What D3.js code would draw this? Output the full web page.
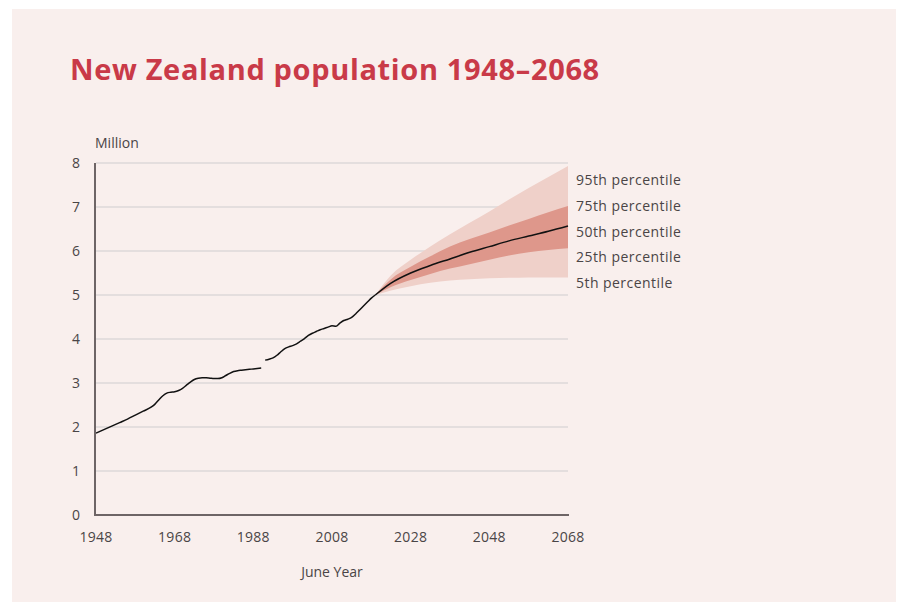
<!DOCTYPE html>
<html>
<head>
<meta charset="utf-8">
<script src="https://cdn.jsdelivr.net/npm/d3@7"></script>
<style>
  body { margin: 0; background: #ffffff; }
  text { font-family: "Open Sans", "Lato", sans-serif; }
</style>
</head>
<body>
<svg id="chart"></svg>
<script>
// Historical estimates (de facto to 1990, resident from 1991), millions
var histYearsA = [1948, 1950, 1952, 1954, 1956, 1958, 1960, 1962, 1963, 1964, 1965, 1966, 1967, 1968, 1969, 1970, 1971, 1972, 1973, 1974, 1975, 1976, 1977, 1978, 1979, 1980, 1981, 1982, 1983, 1984, 1985, 1986, 1987, 1988, 1989, 1990];
var histValuesA = [1.86, 1.94, 2.02, 2.10, 2.18, 2.27, 2.36, 2.45, 2.52, 2.62, 2.71, 2.77, 2.79, 2.80, 2.83, 2.88, 2.95, 3.02, 3.08, 3.11, 3.12, 3.12, 3.11, 3.10, 3.10, 3.12, 3.17, 3.22, 3.26, 3.28, 3.29, 3.30, 3.31, 3.32, 3.33, 3.34];
var histYearsB = [1991, 1992, 1993, 1994, 1995, 1996, 1997, 1998, 1999, 2000, 2001, 2002, 2003, 2004, 2005, 2006, 2007, 2008, 2009, 2010, 2011, 2012, 2013, 2014, 2015, 2016, 2017, 2018, 2019];
var histValuesB = [3.52, 3.54, 3.57, 3.63, 3.71, 3.78, 3.82, 3.85, 3.89, 3.95, 4.01, 4.08, 4.13, 4.17, 4.21, 4.24, 4.27, 4.30, 4.29, 4.36, 4.42, 4.45, 4.49, 4.57, 4.66, 4.75, 4.84, 4.93, 5.00];

// Projection percentiles
var projYears = [2019, 2023, 2028, 2033, 2038, 2043, 2048, 2053, 2058, 2063, 2068];
var p95 = [5.00, 5.45, 5.80, 6.10, 6.38, 6.64, 6.90, 7.17, 7.43, 7.68, 7.93];
var p75 = [5.00, 5.36, 5.64, 5.88, 6.10, 6.27, 6.42, 6.58, 6.73, 6.88, 7.02];
var p50 = [5.00, 5.27, 5.50, 5.67, 5.82, 5.97, 6.10, 6.23, 6.34, 6.45, 6.57];
var p25 = [5.00, 5.18, 5.34, 5.48, 5.60, 5.70, 5.80, 5.90, 5.97, 6.02, 6.06];
var p05 = [5.00, 5.10, 5.20, 5.28, 5.33, 5.36, 5.38, 5.39, 5.40, 5.40, 5.40];

var xTicks = [1948, 1968, 1988, 2008, 2028, 2048, 2068];
var yTicks = [0, 1, 2, 3, 4, 5, 6, 7, 8];
var legendLabels = ["95th percentile", "75th percentile", "50th percentile", "25th percentile", "5th percentile"];
// label anchor levels on the y scale (labels are spaced evenly beside the bands)
var legendValues = [7.55, 6.96, 6.37, 5.80, 5.21];

var W = 901, H = 602;

var svg = d3.select("#chart")
    .attr("width", W)
    .attr("height", H);

// Panel background
svg.append("rect")
    .attr("x", 12).attr("y", 9)
    .attr("width", 884).attr("height", 594)
    .attr("fill", "#f9efed");

svg.append("text")
    .attr("x", 70).attr("y", 80)
    .attr("fill", "#c93a48")
    .style("font-size", "29px")
    .style("font-weight", "700")
    .style("letter-spacing", "0.65px")
    .text("New Zealand population 1948\u20132068");

var x = d3.scaleLinear().domain([1948, 2068]).range([96, 568]);
var y = d3.scaleLinear().domain([0, 8]).range([515, 163]);

// Gridlines
svg.append("g")
    .selectAll("line")
    .data(yTicks.slice(1))
    .join("line")
    .attr("x1", x(1948)).attr("x2", x(2068))
    .attr("y1", function (d) { return y(d); })
    .attr("y2", function (d) { return y(d); })
    .attr("stroke", "#dcd9d8")
    .attr("stroke-width", 1.5);

function zipYears(years, vals) {
    return years.map(function (yr, i) { return { year: yr, v: vals[i] }; });
}

var band = function (lo, hi) {
    var rows = projYears.map(function (yr, i) { return { year: yr, lo: lo[i], hi: hi[i] }; });
    return d3.area()
        .x(function (d) { return x(d.year); })
        .y0(function (d) { return y(d.lo); })
        .y1(function (d) { return y(d.hi); })
        .curve(d3.curveMonotoneX)(rows);
};

svg.append("path").attr("d", band(p05, p95)).attr("fill", "#efd0c9");
svg.append("path").attr("d", band(p25, p75)).attr("fill", "#de978b");

var line = d3.line()
    .x(function (d) { return x(d.year); })
    .y(function (d) { return y(d.v); })
    .curve(d3.curveMonotoneX);

[zipYears(histYearsA, histValuesA), zipYears(histYearsB, histValuesB), zipYears(projYears, p50)].forEach(function (s) {
    svg.append("path")
        .attr("d", line(s))
        .attr("fill", "none")
        .attr("stroke", "#111111")
        .attr("stroke-width", 1.5);
});

// Axes lines
svg.append("line")
    .attr("x1", 95).attr("x2", 95)
    .attr("y1", y(8)).attr("y2", y(0) + 1)
    .attr("stroke", "#6e6566").attr("stroke-width", 2);
svg.append("line")
    .attr("x1", 95).attr("x2", x(2068) + 1)
    .attr("y1", y(0)).attr("y2", y(0))
    .attr("stroke", "#6e6566").attr("stroke-width", 2);

// Tick labels
svg.append("g")
    .selectAll("text")
    .data(yTicks)
    .join("text")
    .attr("x", 80)
    .attr("y", function (d) { return y(d) + 5; })
    .attr("text-anchor", "end")
    .attr("fill", "#4a4546")
    .style("font-size", "14px")
    .text(function (d) { return d; });

svg.append("g")
    .selectAll("text")
    .data(xTicks)
    .join("text")
    .attr("x", function (d) { return x(d); })
    .attr("y", 542)
    .attr("text-anchor", "middle")
    .attr("fill", "#4a4546")
    .style("font-size", "14px")
    .style("letter-spacing", "0.3px")
    .text(function (d) { return d; });

svg.append("text")
    .attr("x", 95).attr("y", 148)
    .attr("fill", "#4a4546")
    .style("font-size", "14px")
    .text("Million");

svg.append("text")
    .attr("x", 332).attr("y", 577)
    .attr("text-anchor", "middle")
    .attr("fill", "#4a4546")
    .style("font-size", "14px")
    .text("June Year");

// Percentile labels
svg.append("g")
    .selectAll("text")
    .data(legendLabels)
    .join("text")
    .attr("x", 576)
    .attr("y", function (d, i) { return y(legendValues[i]) + 2; })
    .attr("fill", "#4a4546")
    .style("font-size", "14px")
    .style("letter-spacing", "0.45px")
    .text(function (d) { return d; });
</script>
</body>
</html>
